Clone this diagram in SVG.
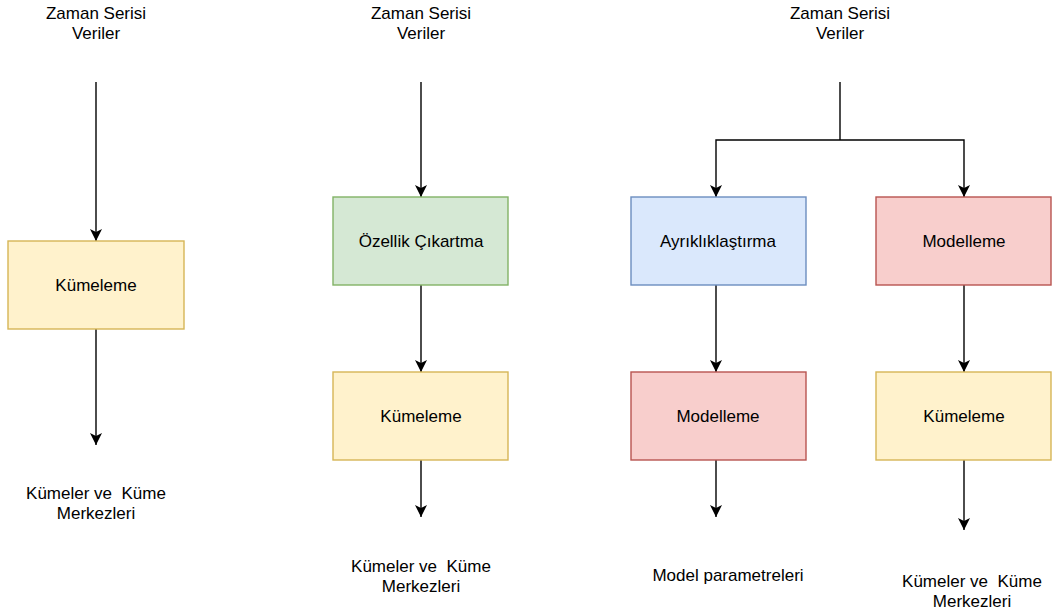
<svg xmlns="http://www.w3.org/2000/svg" width="1052" height="614" viewBox="0 0 1052 614">
<defs>
<style>
text{font-family:"Liberation Sans",Arial,Helvetica,sans-serif;font-size:17px;fill:#000;text-anchor:middle}
.c{fill:none;stroke:#000;stroke-width:1.4}
.y{fill:#fff2cc;stroke:#d6b656;stroke-width:1.4}
.g{fill:#d5e8d4;stroke:#82b366;stroke-width:1.4}
.b{fill:#dae8fc;stroke:#6c8ebf;stroke-width:1.4}
.r{fill:#f8cecc;stroke:#b85450;stroke-width:1.4}
</style>
<marker id="ah" markerUnits="userSpaceOnUse" markerWidth="12" markerHeight="12" viewBox="0 0 12 12" refX="12" refY="6" orient="auto">
<path d="M0,0 L12,6 L0,12 L3,6 Z" fill="#000"/>
</marker>
</defs>
<g id="connectors">
<path class="c" d="M96,82 V241" marker-end="url(#ah)"/>
<path class="c" d="M96,329 V445" marker-end="url(#ah)"/>
<path class="c" d="M421,82 V197" marker-end="url(#ah)"/>
<path class="c" d="M421,285 V372" marker-end="url(#ah)"/>
<path class="c" d="M421,460 V517" marker-end="url(#ah)"/>
<path class="c" d="M840,82 V140"/>
<path class="c" d="M840,140 H716 V197" marker-end="url(#ah)"/>
<path class="c" d="M840,140 H964 V197" marker-end="url(#ah)"/>
<path class="c" d="M716,285 V372" marker-end="url(#ah)"/>
<path class="c" d="M716,460 V517" marker-end="url(#ah)"/>
<path class="c" d="M964,285 V372" marker-end="url(#ah)"/>
<path class="c" d="M964,460 V530" marker-end="url(#ah)"/>
</g>
<g id="input1"><text x="96" y="19">Zaman Serisi</text><text x="96" y="39">Veriler</text></g>
<g id="input2"><text x="421" y="19">Zaman Serisi</text><text x="421" y="39">Veriler</text></g>
<g id="input3"><text x="840" y="19">Zaman Serisi</text><text x="840" y="39">Veriler</text></g>
<g id="kumeleme1"><rect class="y" x="8" y="241" width="176" height="88"/><text x="96" y="291">Kümeleme</text></g>
<g id="ozellik"><rect class="g" x="333" y="197" width="175" height="88"/><text x="421" y="247">Özellik Çıkartma</text></g>
<g id="kumeleme2"><rect class="y" x="333" y="372" width="175" height="88"/><text x="421" y="422">Kümeleme</text></g>
<g id="ayrik"><rect class="b" x="631" y="197" width="175" height="88"/><text x="718" y="247">Ayrıklıklaştırma</text></g>
<g id="modelleme1"><rect class="r" x="876" y="197" width="175" height="88"/><text x="964" y="247">Modelleme</text></g>
<g id="modelleme2"><rect class="r" x="631" y="372" width="175" height="88"/><text x="718" y="422">Modelleme</text></g>
<g id="kumeleme3"><rect class="y" x="876" y="372" width="175" height="88"/><text x="964" y="422">Kümeleme</text></g>
<g id="out1"><text x="96" y="499" xml:space="preserve">Kümeler ve  Küme</text><text x="96" y="519">Merkezleri</text></g>
<g id="out2"><text x="421" y="572" xml:space="preserve">Kümeler ve  Küme</text><text x="421" y="592">Merkezleri</text></g>
<g id="out3"><text x="728" y="581">Model parametreleri</text></g>
<g id="out4"><text x="972" y="587" xml:space="preserve">Kümeler ve  Küme</text><text x="972" y="607">Merkezleri</text></g>
</svg>
